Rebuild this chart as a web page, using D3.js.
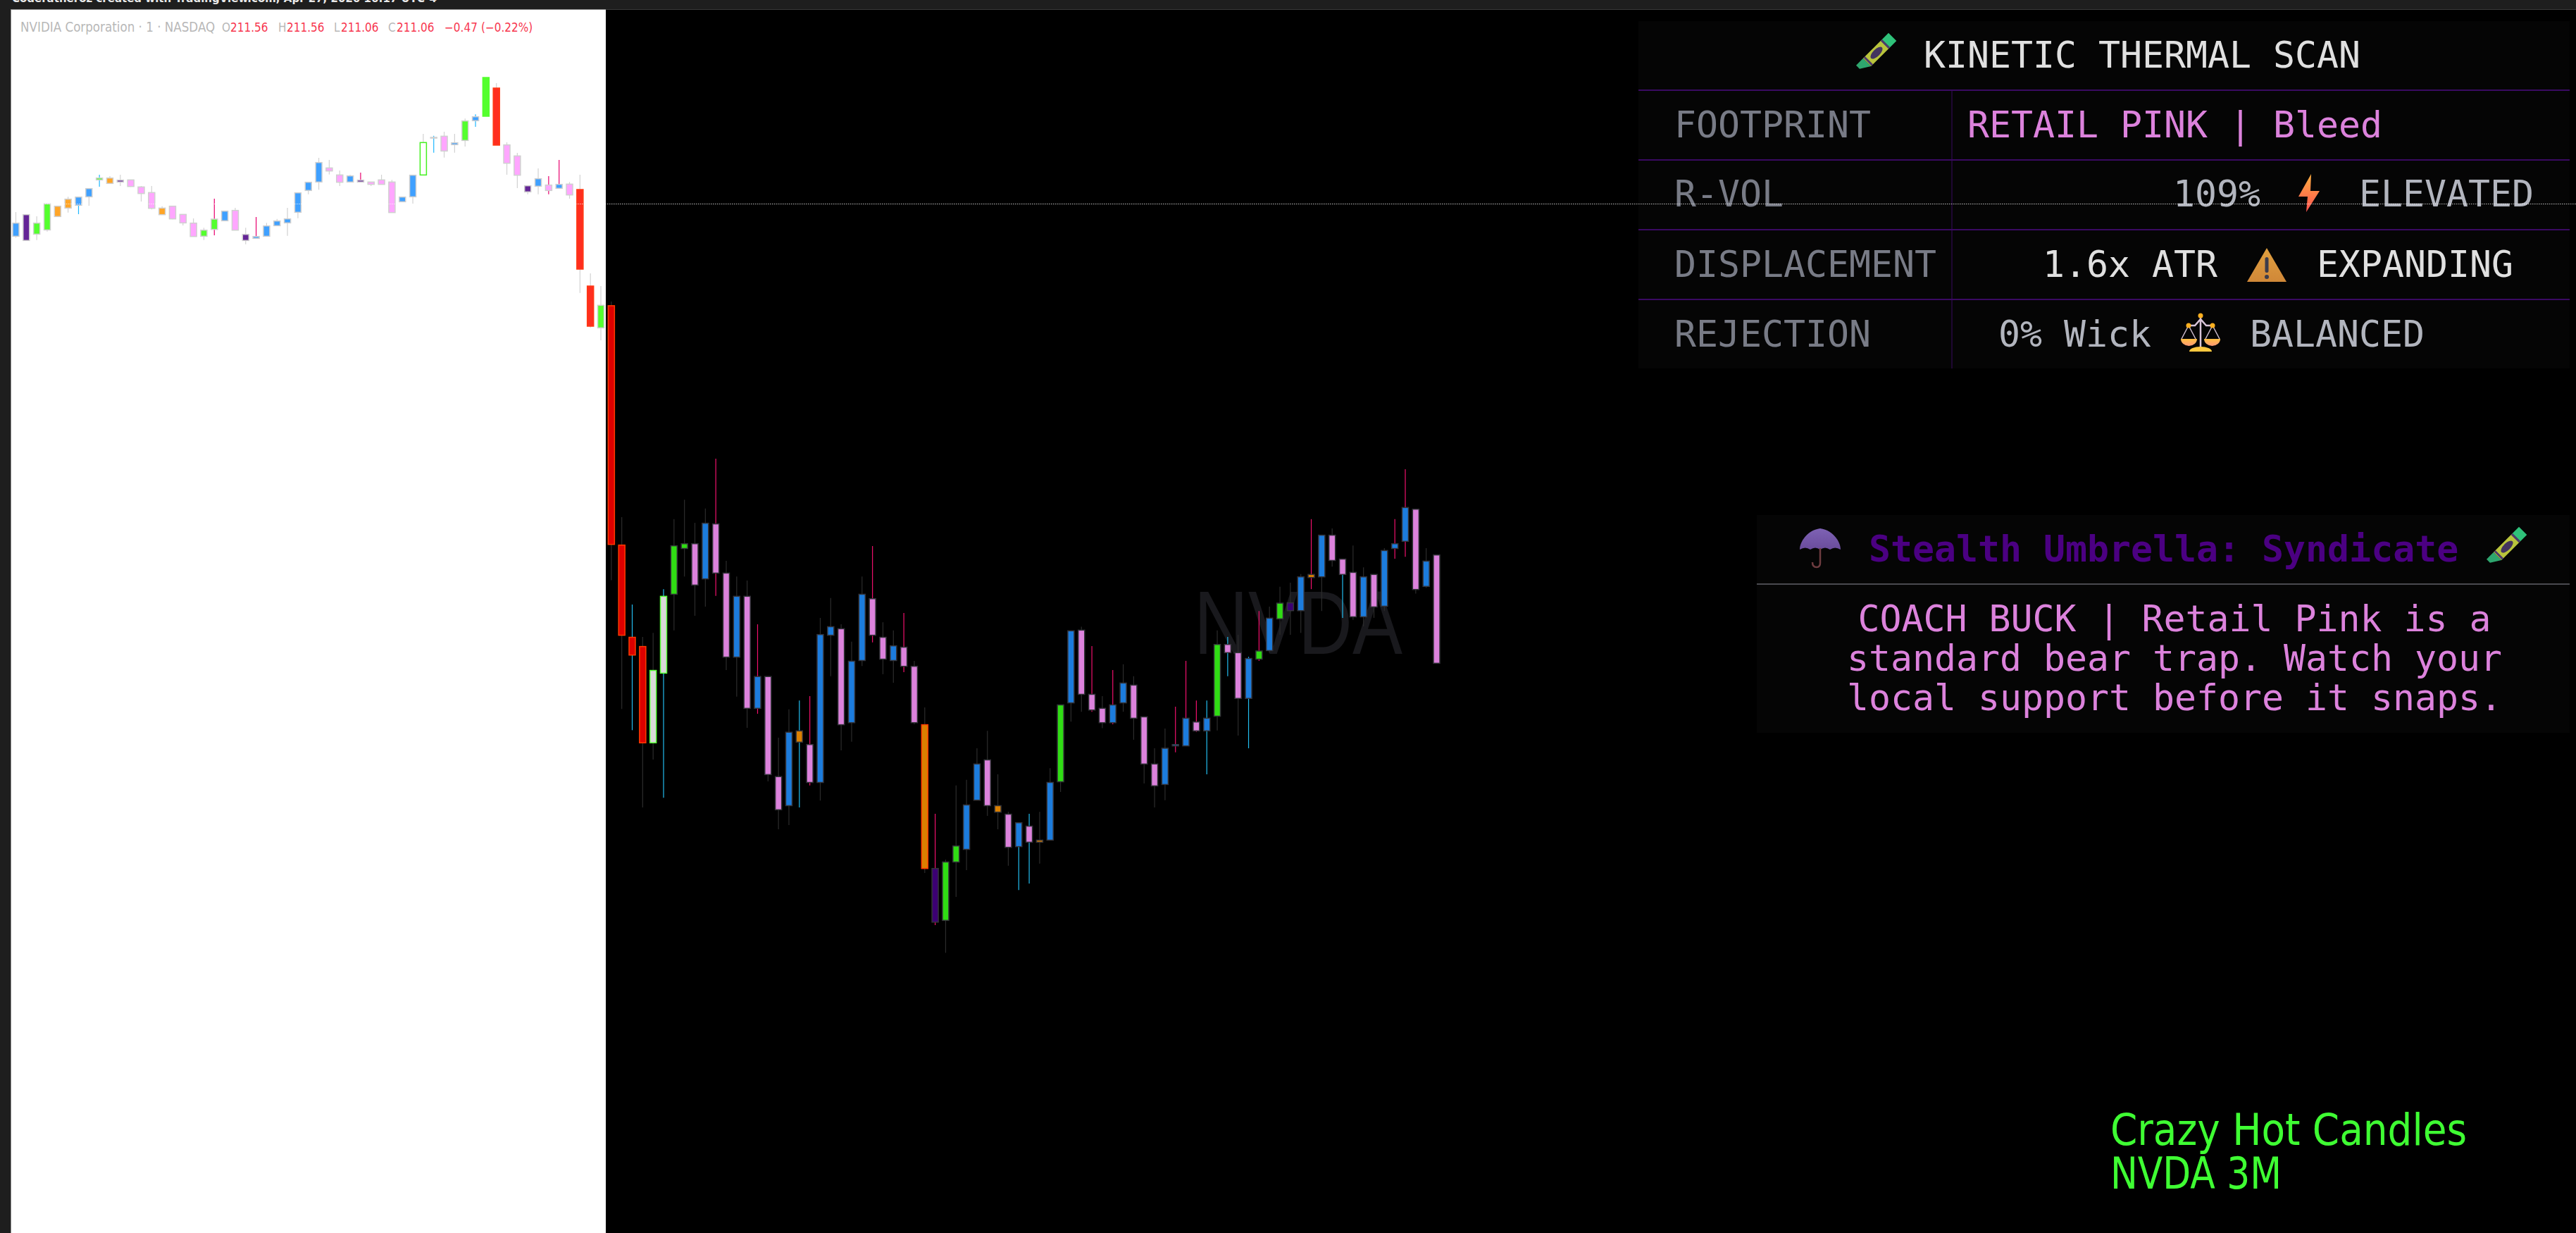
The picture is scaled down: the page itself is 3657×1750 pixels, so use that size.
<!DOCTYPE html>
<html>
<head>
<meta charset="utf-8">
<title>Crazy Hot Candles NVDA 3M</title>
<script src="https://cdn.jsdelivr.net/npm/d3@7"></script>
<style>
  html, body { margin: 0; padding: 0; background: #000; overflow: hidden; }
  svg { display: block; }
</style>
</head>
<body>
<script>
// Left screenshot, 1 min candles (light theme)
const leftHigh = [206.97,206.86,206.79,207.32,207.22,207.62,207.62,207.97,208.56,208.50,208.56,208.34,208.08,208.08,207.22,207.22,206.87,206.70,206.30,207.54,207.01,207.15,206.30,206.76,206.51,206.68,207.15,207.79,208.24,209.28,209.19,208.74,208.56,208.65,208.25,208.56,208.34,207.61,208.54,210.30,210.22,210.39,210.30,210.95,211.13,212.70,212.46,209.94,209.49,208.09,208.83,208.50,209.19,208.25,208.56,204.36,203.82];
const leftTop = [206.50,206.86,206.50,207.32,207.22,207.52,207.61,207.97,208.42,208.42,208.33,208.34,208.04,207.80,207.14,207.22,206.87,206.50,206.20,206.67,207.01,207.04,206.02,205.93,206.38,206.59,206.68,207.79,208.24,209.08,208.85,208.55,208.51,208.33,208.25,208.34,208.25,207.61,208.54,209.93,210.15,210.20,209.92,210.85,211.03,212.70,212.25,209.83,209.36,208.09,208.39,208.12,208.15,208.16,207.93,203.82,203.00];
const leftBottom = [205.94,205.76,206.03,206.21,206.78,207.14,207.26,207.62,208.34,208.19,208.25,208.06,207.76,207.13,206.86,206.68,206.51,205.93,205.94,206.23,206.60,206.20,205.76,205.85,205.94,206.39,206.51,206.96,207.89,208.25,208.72,208.24,208.25,208.25,208.15,208.15,206.95,207.41,207.62,208.55,210.12,209.57,209.84,210.02,210.86,211.05,209.82,209.05,208.54,207.83,208.07,207.89,207.98,207.70,204.54,202.11,202.04];
const leftLow = [205.88,205.76,205.78,206.14,206.76,206.95,206.88,207.24,208.05,208.18,208.08,208.04,207.42,207.08,206.85,206.66,206.40,205.93,205.78,205.98,206.59,206.19,205.60,205.83,205.93,206.38,205.96,206.71,207.73,207.92,208.57,208.08,208.23,208.23,208.08,208.14,206.94,207.39,207.33,208.54,209.50,209.29,209.50,209.76,210.60,211.05,209.82,208.56,207.99,207.73,207.73,207.73,207.96,207.54,203.53,202.05,201.51];
const leftKinds = ("buggoobbgo" + "upppopppgg" + "bpubbbbbbb" + "ppbupppbbh" + "wpbgbGrppu" + "bpbprrg").split("");
const leftCyanWicks = [6,8,40,44];
const leftMagentaWicks = [19,23,33,51,52];

// Right side, 3 min candles (dark theme)
const darkHigh = [215.96,209.65,207.09,206.14,206.26,207.54,209.59,210.16,209.48,209.90,211.36,208.37,207.91,207.79,206.51,204.98,203.19,204.02,204.28,204.41,206.70,207.28,206.51,206.00,207.91,208.80,206.57,206.33,206.84,205.44,204.08,200.96,199.62,201.79,201.96,202.88,203.39,202.12,201.02,200.70,200.96,201.02,202.30,204.15,206.32,206.44,205.87,204.41,205.17,205.34,204.99,203.80,202.88,203.46,204.10,205.44,204.28,204.28,206.33,206.14,206.20,205.56,206.90,207.03,207.61,207.73,207.98,209.59,209.12,209.32,208.42,208.82,208.18,207.97,208.74,209.59,211.05,209.88,208.74,208.54];
const darkTop = [215.84,208.83,206.13,205.86,205.16,207.33,208.81,208.87,208.87,209.47,209.45,208.01,207.33,207.33,204.98,204.98,202.05,203.35,203.39,202.99,206.21,206.44,206.38,205.43,207.39,207.26,206.13,205.88,205.84,205.28,203.57,199.36,199.55,200.02,201.22,202.42,202.54,201.20,200.95,200.70,200.60,200.19,201.88,204.15,206.32,206.34,204.46,204.05,204.15,204.79,204.73,203.80,202.42,202.88,202.99,203.76,203.65,203.76,205.92,205.92,205.68,205.51,205.73,206.69,207.13,207.14,207.90,207.97,209.12,209.12,208.42,208.03,207.90,207.97,208.67,208.87,209.93,209.88,208.36,208.54];
const darkBottom = [208.85,206.19,205.61,203.04,203.04,205.08,207.39,208.73,207.66,207.84,208.01,205.55,205.55,204.05,204.05,202.11,201.08,201.20,203.06,201.88,201.88,206.19,203.57,203.63,205.45,206.19,205.49,205.45,205.28,203.63,199.36,197.79,197.84,199.55,199.92,201.36,201.20,201.01,199.98,200.00,200.13,200.13,200.19,201.90,204.21,204.46,204.00,203.63,203.63,204.21,203.76,202.42,201.78,201.82,202.95,202.95,203.39,203.39,203.82,205.68,204.34,204.34,205.49,205.74,206.67,206.91,206.91,207.88,207.90,208.38,207.97,206.73,206.73,207.02,207.04,208.73,208.94,207.53,207.62,205.37];
const darkLow = [207.80,204.03,203.41,201.15,202.55,201.43,206.33,207.91,206.76,207.03,207.34,205.17,204.39,203.48,203.89,201.91,200.51,200.63,201.15,201.79,201.35,204.99,202.82,203.07,205.29,205.98,205.05,204.80,205.11,203.58,199.23,197.70,196.89,198.53,199.31,201.36,200.90,200.51,199.44,198.73,198.92,199.50,200.19,201.60,203.66,203.95,203.95,203.47,203.58,203.95,203.13,201.85,201.15,201.36,202.76,202.95,203.36,202.12,203.40,204.99,203.25,202.88,205.44,205.68,206.20,206.20,206.26,207.54,206.90,208.20,206.70,206.64,206.45,206.70,206.90,208.43,208.49,207.41,207.58,205.37];
const darkKinds = ("rrrrhhggpb" + "ppbpbppbop" + "bbpbbppbpp" + "Ouggbbpopb" + "pobgbpppbb" + "pppbbbpbgp" + "pbgbgubobp" + "ppbpbbbpbp").split("");
const darkCyanWicks = [2,5,18,39,40,57,59,61,70];
const darkMagentaWicks = [10,14,19,25,28,31,46,48,54,55,56,62,67,75,76];

// kind -> fill / border
const leftTheme = {
  fill: {b:"#3fa0ff", p:"#ffa6ff", g:"#54ff2e", G:"#54ff2e", o:"#ffa526", u:"#642596", r:"#ff2e1f", h:"#ffffff", w:"#d0d0d0"},
  stroke: {b:"#d0d0d0", p:"#d0d0d0", g:"#d0d0d0", G:"#54ff2e", o:"#d0d0d0", u:"#d0d0d0", r:"#ff3a14", h:"#43f01e", w:"#d0d0d0"},
  wick: "#d2d2d2", cyan: "#1fb8ff", magenta: "#e8006e"
};
const darkTheme = {
  fill: {b:"#1c7cdd", p:"#dc82dc", g:"#30dd14", o:"#db8000", O:"#db8000", u:"#3c0073", r:"#dd0000", h:"#d9d9d9"},
  stroke: {b:"#34343a", p:"#34343a", g:"#34343a", o:"#34343a", O:"#ff3a00", u:"#34343a", r:"#ff3a00", h:"#55ff33"},
  wick: "#2c2c2c", cyan: "#22bdf0", magenta: "#f0106c"
};

const legendPieces = [
  ["NVIDIA Corporation · 1 · NASDAQ", 29, "#b8b8b8", 18.6],
  ["O", 315, "#b8b8b8", 17], ["211.56", 327, "#f7374f", 17],
  ["H", 395, "#b8b8b8", 17], ["211.56", 407, "#f7374f", 17],
  ["L", 474, "#b8b8b8", 17], ["211.06", 484, "#f7374f", 17],
  ["C", 551, "#b8b8b8", 17], ["211.06", 563, "#f7374f", 17],
  ["−0.47", 631, "#f7374f", 17], ["(−0.22%)", 683, "#f7374f", 17]
];
const rowLabels = ["FOOTPRINT", "R-VOL", "DISPLACEMENT", "REJECTION"];
const rowBaselines = [195, 293, 392.5, 492];
const rowLines = [128, 227, 326, 425];
const rowValues = [
  ["RETAIL PINK | Bleed", 2793, 195, "#dc82dc"],
  ["109%", 3085, 293, "#b2b5be"], ["ELEVATED", 3349, 293, "#b2b5be"],
  ["1.6x ATR", 2900, 392.5, "#e0e0e0"], ["EXPANDING", 3289, 392.5, "#e0e0e0"],
  ["0% Wick", 2837, 492, "#b2b5be"], ["BALANCED", 3194, 492, "#b2b5be"]
];
const coachLines = ["COACH BUCK | Retail Pink is a", "standard bear trap. Watch your", "local support before it snaps."];
const coachBaselines = [896, 952, 1008];
const brandLines = ["Crazy Hot Candles", "NVDA 3M"];
const brandBaselines = [1625, 1687];
const brandWidths = [506, 243];

const width = 3657, height = 1750;
const mono = "'DejaVu Sans Mono', monospace";
const monoSize = "51.5px ";

const svg = d3.select("body").append("svg")
  .attr("width", width)
  .attr("height", height)
  .attr("viewBox", [0, 0, width, height]);

const defs = svg.append("defs");
function gradient(id, top, bottom) {
  const g = defs.append("linearGradient").attr("id", id).attr("x1", 0).attr("y1", 0).attr("x2", 0).attr("y2", 1);
  g.append("stop").attr("offset", 0).attr("stop-color", top);
  g.append("stop").attr("offset", 1).attr("stop-color", bottom);
}
gradient("boltFill", "#ffb040", "#ff5050");
gradient("warnFill", "#e0a040", "#d08838");
gradient("cupFill", "#ffc040", "#ff9878");
gradient("domeFill", "#7e62b4", "#6a4c9c");

// backgrounds
svg.append("rect").attr("width", width).attr("height", height).attr("fill", "#000");
svg.append("rect").attr("width", width).attr("height", 14).attr("fill", "#1e1e1e");
svg.append("rect").attr("y", 13).attr("width", width).attr("height", 1).attr("fill", "#3a3a3a");
svg.append("rect").attr("width", 16).attr("height", height).attr("fill", "#1e1e1e");
svg.append("rect").attr("x", 15).attr("y", 13).attr("width", 845).attr("height", height - 13).attr("fill", "#8a8a8a");
svg.append("rect").attr("x", 16).attr("y", 14).attr("width", 844).attr("height", height - 14).attr("fill", "#fff");

svg.append("text")
  .attr("x", 17).attr("y", 3)
  .attr("fill", "#e8e8e8")
  .style("font", "600 15px 'DejaVu Sans', sans-serif")
  .text("Coderatheroz created with TradingView.com, Apr 27, 2026 16:17 UTC-4");

svg.selectAll(".legend").data(legendPieces).join("text")
  .attr("class", "legend")
  .attr("x", d => d[1]).attr("y", 45)
  .attr("fill", d => d[2])
  .style("font", d => d[3] + "px 'DejaVu Sans', sans-serif")
  .style("font-stretch", "condensed")
  .text(d => d[0]);

// watermark sits behind the candles
svg.append("text")
  .attr("x", 1843).attr("y", 928)
  .attr("text-anchor", "middle")
  .attr("textLength", 296)
  .attr("lengthAdjust", "spacingAndGlyphs")
  .attr("fill", "#19191d")
  .style("font", "128px 'Liberation Sans', sans-serif")
  .text("NVDA");

// one time axis, the two screenshots sit side by side at the same bar spacing
const x = d3.scaleLinear().domain([0, 136]).range([22.5, 2039.5]);
const yLeft = d3.scaleLinear().domain([216, 201.6]).range([0, 480]);
const yDark = d3.scaleLinear().domain([212, 196.32]).range([620, 1380]);

function drawCandles(name, offset, y, theme, high, top, bottom, low, kinds, cyan, magenta) {
  const candles = d3.range(high.length).map(i => ({
    i: i, high: high[i], top: top[i], bottom: bottom[i], low: low[i], kind: kinds[i],
    wick: cyan.includes(i) ? theme.cyan : magenta.includes(i) ? theme.magenta : theme.wick
  }));
  const g = svg.append("g").attr("class", name);
  g.selectAll("line").data(candles).join("line")
    .attr("x1", d => x(d.i + offset)).attr("x2", d => x(d.i + offset))
    .attr("y1", d => y(d.high)).attr("y2", d => y(d.low))
    .attr("stroke", d => d.wick)
    .attr("stroke-width", 1.2);
  g.selectAll("rect").data(candles).join("rect")
    .attr("x", d => x(d.i + offset) - 4.5)
    .attr("y", d => y(d.top))
    .attr("width", 9)
    .attr("height", d => y(d.bottom) - y(d.top))
    .attr("fill", d => theme.fill[d.kind])
    .attr("stroke", d => theme.stroke[d.kind])
    .attr("stroke-width", 1.5);
}
drawCandles("left", 0, yLeft, leftTheme, leftHigh, leftTop, leftBottom, leftLow, leftKinds, leftCyanWicks, leftMagentaWicks);
drawCandles("dark", 57, yDark, darkTheme, darkHigh, darkTop, darkBottom, darkLow, darkKinds, darkCyanWicks, darkMagentaWicks);

// thermal scan table
const table = svg.append("g");
table.append("rect").attr("x", 2326).attr("y", 30).attr("width", 1322).attr("height", 493).attr("fill", "#050505");
table.selectAll(".rowline").data(rowLines).join("rect")
  .attr("class", "rowline")
  .attr("x", 2326).attr("y", d => d - 1)
  .attr("width", 1322).attr("height", 2)
  .attr("fill", "#3a0a62");
table.append("rect").attr("x", 2770.5).attr("y", 128).attr("width", 1).attr("height", 395).attr("fill", "#3a0a62");
table.append("text")
  .attr("x", 2731).attr("y", 96)
  .attr("fill", "#e0e0e0")
  .style("font", monoSize + mono)
  .text("KINETIC THERMAL SCAN");
table.selectAll(".rowlabel").data(rowLabels).join("text")
  .attr("class", "rowlabel")
  .attr("x", 2377).attr("y", (d, i) => rowBaselines[i])
  .attr("fill", "#787b86")
  .style("font", monoSize + mono)
  .text(d => d);
table.selectAll(".rowvalue").data(rowValues).join("text")
  .attr("class", "rowvalue")
  .attr("x", d => d[1]).attr("y", d => d[2])
  .attr("fill", d => d[3])
  .style("font", monoSize + mono)
  .text(d => d[0]);

// coach note
const note = svg.append("g");
note.append("rect").attr("x", 2494).attr("y", 731).attr("width", 1154).attr("height", 309).attr("fill", "#050505");
note.append("rect").attr("x", 2494).attr("y", 828).attr("width", 1154).attr("height", 2).attr("fill", "#4a4a50");
note.append("text")
  .attr("x", 2653).attr("y", 797)
  .attr("fill", "#4b0082")
  .style("font", "bold " + monoSize + mono)
  .text("Stealth Umbrella: Syndicate");
note.selectAll(".coach").data(coachLines).join("text")
  .attr("class", "coach")
  .attr("x", 3087).attr("y", (d, i) => coachBaselines[i])
  .attr("text-anchor", "middle")
  .attr("fill", "#dc82dc")
  .style("font", monoSize + mono)
  .text(d => d);

// emoji glyphs are not installed, so these are small drawings
function crayon(cx, cy) {
  const g = svg.append("g").attr("transform", `translate(${cx},${cy}) rotate(45)`);
  g.append("path").attr("d", "M-8,19 L8,19 L-1,33 L-8,33 Z").attr("fill", "#2ea66e");
  g.append("rect").attr("x", -8).attr("y", -19).attr("width", 16).attr("height", 38).attr("fill", "#b9c43c");
  g.append("rect").attr("x", -8).attr("y", -32).attr("width", 16).attr("height", 13).attr("fill", "#2fc27a");
  g.append("rect").attr("x", -8).attr("y", -19).attr("width", 16).attr("height", 3).attr("fill", "#4c3a6c");
  g.append("rect").attr("x", -8).attr("y", 15).attr("width", 16).attr("height", 3).attr("fill", "#4c3a6c");
  g.append("ellipse").attr("rx", 5).attr("ry", 11).attr("fill", "#43345f");
}
crayon(2664, 75);
crayon(3559, 776);

svg.append("path").attr("transform", "translate(3263,247)")
  .attr("d", "M18,0 L0,32 L13,32 L11,54 L30,24 L17,24 Z").attr("fill", "url(#boltFill)");

const warn = svg.append("g").attr("transform", "translate(3190,352)");
warn.append("path").attr("d", "M28,0 L56,48 L0,48 Z").attr("fill", "url(#warnFill)");
warn.append("rect").attr("x", 25.5).attr("y", 13).attr("width", 5).attr("height", 22).attr("rx", 2.5).attr("fill", "#3c3c4c");
warn.append("circle").attr("cx", 28).attr("cy", 41).attr("r", 3).attr("fill", "#3c3c4c");

const scales = svg.append("g").attr("transform", "translate(3096,445)").attr("fill", "none");
scales.append("path").attr("d", "M28,4 V50 M11,17 L20,17 L28,8 L36,17 L45,17").attr("stroke", "#d8c4d8").attr("stroke-width", 2.5);
scales.append("path").attr("d", "M11,17 L1,36 M11,17 L21,36 M45,17 L35,36 M45,17 L55,36").attr("stroke", "#cdbccd").attr("stroke-width", 1.5);
scales.append("path").attr("d", "M0,36 H23 A11.5,10 0 0 1 0,36 Z M33,36 H56 A11.5,10 0 0 1 33,36 Z").attr("fill", "url(#cupFill)");
scales.append("path").attr("d", "M12,54 A16,7 0 0 1 44,54 Z").attr("fill", "#ffc840");
scales.selectAll("circle").data([[28, 3], [11, 17], [45, 17]]).join("circle")
  .attr("cx", d => d[0]).attr("cy", d => d[1]).attr("r", 3.5).attr("fill", "#ffb020");

const umbrella = svg.append("g").attr("transform", "translate(2555,750)");
umbrella.append("path").attr("d", "M29,0 C46,2 58,18 58,30 Q50,25 43,30 Q36,25 29,30 Q22,25 15,30 Q8,25 0,30 C0,18 12,2 29,0 Z").attr("fill", "url(#domeFill)");
umbrella.append("path").attr("d", "M29,28 V49 Q29,55 24,55 Q18,55 18,48").attr("fill", "none").attr("stroke", "#6e3c40").attr("stroke-width", 2.5);

svg.append("g").style("font", "62px 'DejaVu Sans', sans-serif").style("font-stretch", "condensed")
  .selectAll("text").data(brandLines).join("text")
  .attr("x", 2996)
  .attr("y", (d, i) => brandBaselines[i])
  .attr("textLength", (d, i) => brandWidths[i])
  .attr("lengthAdjust", "spacingAndGlyphs")
  .attr("fill", "#3fff33")
  .text(d => d);

// dotted price line runs across the whole shot, on top of everything
svg.append("line")
  .attr("x1", 16).attr("x2", width)
  .attr("y1", 289.5).attr("y2", 289.5)
  .attr("stroke", "#fff")
  .attr("stroke-opacity", 0.75)
  .attr("stroke-dasharray", "1.5 1.5");
</script>
</body>
</html>
